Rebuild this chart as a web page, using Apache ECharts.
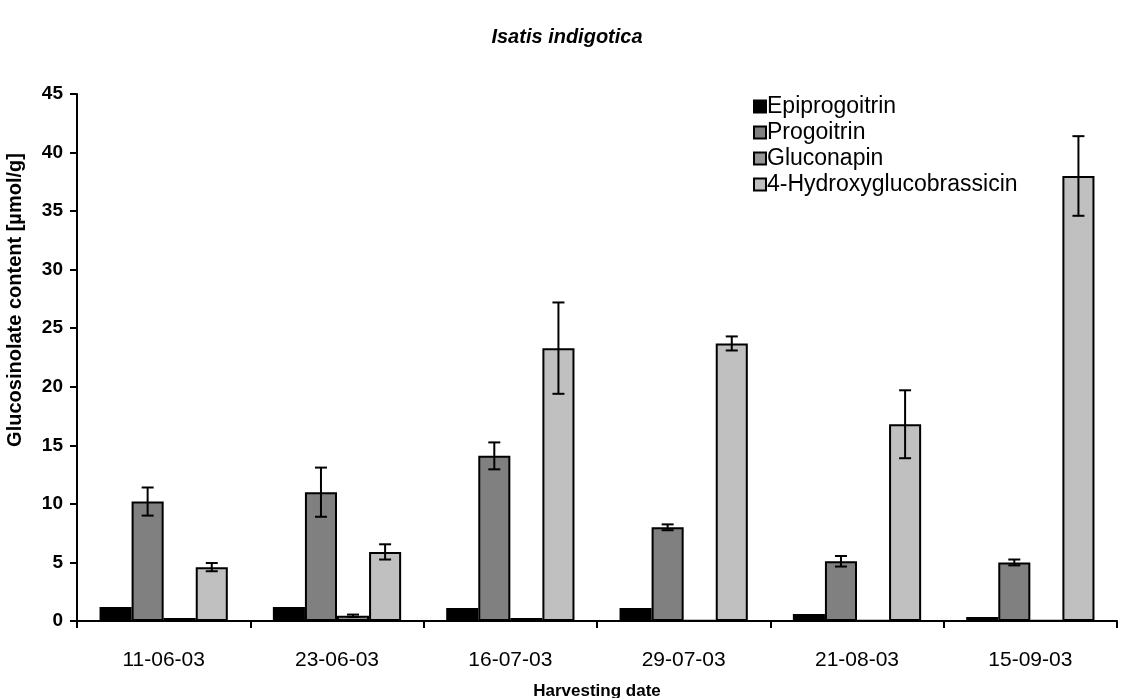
<!DOCTYPE html>
<html>
<head>
<meta charset="utf-8">
<script src="https://cdn.jsdelivr.net/npm/echarts@6/dist/echarts.min.js"></script>
<style>
  html, body { margin: 0; padding: 0; background: #fff; }
  #chart { width: 1134px; height: 698px; }
</style>
</head>
<body>
<div id="chart"></div>
<script>
var dates = ['11-06-03', '23-06-03', '16-07-03', '29-07-03', '21-08-03', '15-09-03'];
var seriesNames = ['Epiprogoitrin', 'Progoitrin', 'Gluconapin', '4-Hydroxyglucobrassicin'];
var seriesColors = ['#000000', '#808080', '#969696', '#c0c0c0'];

var epiprogoitrin = [1.2, 1.2, 1.1, 1.1, 0.6, 0.35];
var progoitrin = [10.2, 11.0, 14.1, 8.0, 5.1, 5.0];
var gluconapin = [0.25, 0.45, 0.25, 0.05, 0.05, 0.05];
var hydroxy = [4.6, 5.9, 23.3, 23.7, 16.8, 38.0];

var progoitrinErr = [1.2, 2.1, 1.15, 0.25, 0.45, 0.25];
var gluconapinErr = [0, 0.1, 0, 0, 0, 0];
var hydroxyErr = [0.35, 0.65, 3.9, 0.6, 2.9, 3.4];

var yTicks = [0, 5, 10, 15, 20, 25, 30, 35, 40, 45];

var values = [epiprogoitrin, progoitrin, gluconapin, hydroxy];
var errors = [null, progoitrinErr, gluconapinErr, hydroxyErr];
var catGap = 0.26;

var chart = echarts.init(document.getElementById('chart'));

var series = [];
values.forEach(function (vals, i) {
  series.push({
    name: seriesNames[i],
    type: 'bar',
    data: vals,
    barGap: 0,
    barCategoryGap: '26%',
    itemStyle: { color: seriesColors[i], borderColor: '#000', borderWidth: 2 },
    emphasis: { disabled: true }
  });
});

// error bars drawn on top of the bars
errors.forEach(function (errs, i) {
  if (!errs) return;
  series.push({
    type: 'custom',
    name: seriesNames[i] + ' err',
    z: 10,
    silent: true,
    data: values[i].map(function (v, k) { return [k, v, errs[k]]; }),
    renderItem: function (params, api) {
      var k = api.value(0), v = api.value(1), e = api.value(2);
      if (!e) return null;
      var bandW = api.size([1, 0])[0];
      var groupW = bandW * (1 - catGap);
      var barW = groupW / 4;
      var c = api.coord([k, v]);
      var x = c[0] - groupW / 2 + barW * (i + 0.5);
      var top = api.coord([k, v + e])[1];
      var bot = api.coord([k, v - e])[1];
      var cap = 6;
      var st = { stroke: '#000', lineWidth: 2 };
      return {
        type: 'group',
        children: [
          { type: 'line', shape: { x1: x, y1: top, x2: x, y2: bot }, style: st },
          { type: 'line', shape: { x1: x - cap, y1: top, x2: x + cap, y2: top }, style: st },
          { type: 'line', shape: { x1: x - cap, y1: bot, x2: x + cap, y2: bot }, style: st }
        ]
      };
    }
  });
});

chart.setOption({
  animation: false,
  backgroundColor: '#fff',
  textStyle: { fontFamily: 'Liberation Sans, Arial, sans-serif' },
  title: {
    text: 'Isatis indigotica',
    left: 'center',
    top: 22,
    textStyle: { fontSize: 20, fontWeight: 'bold', fontStyle: 'italic', color: '#000', fontFamily: 'Liberation Sans' }
  },
  legend: {
    orient: 'vertical',
    left: 748,
    top: 90,
    itemWidth: 12,
    itemHeight: 12,
    itemGap: 3,
    icon: 'rect',
    data: seriesNames.map(function (n) {
      return { name: n, itemStyle: { borderColor: '#000', borderWidth: 2 } };
    }),
    textStyle: { fontSize: 23, lineHeight: 22, color: '#000', padding: [0, 0, 0, -4] },
    selectedMode: false
  },
  grid: { left: 77, right: 17, top: 94, bottom: 77, containLabel: false, outerBoundsMode: 'none' },
  xAxis: {
    type: 'category',
    data: dates,
    name: 'Harvesting date',
    nameLocation: 'middle',
    nameGap: 62,
    nameTextStyle: { fontSize: 17, fontWeight: 'bold', color: '#000' },
    axisLine: { lineStyle: { color: '#000', width: 2 } },
    axisTick: { show: true, length: 7, lineStyle: { color: '#000', width: 2 } },
    axisLabel: { fontSize: 21, color: '#000', margin: 29 }
  },
  yAxis: {
    type: 'value',
    min: yTicks[0],
    max: yTicks[yTicks.length - 1],
    interval: 5,
    name: 'Glucosinolate content [µmol/g]',
    nameLocation: 'middle',
    nameGap: 52,
    nameTextStyle: { fontSize: 20, fontWeight: 'bold', color: '#000', padding: [0, 0, 0, 115] },
    axisLine: { show: true, lineStyle: { color: '#000', width: 2 } },
    axisTick: { show: true, length: 7, lineStyle: { color: '#000', width: 2 } },
    axisLabel: { fontSize: 19, fontWeight: 'bold', color: '#000', margin: 14 },
    splitLine: { show: false }
  },
  series: series
});
</script>
</body>
</html>
